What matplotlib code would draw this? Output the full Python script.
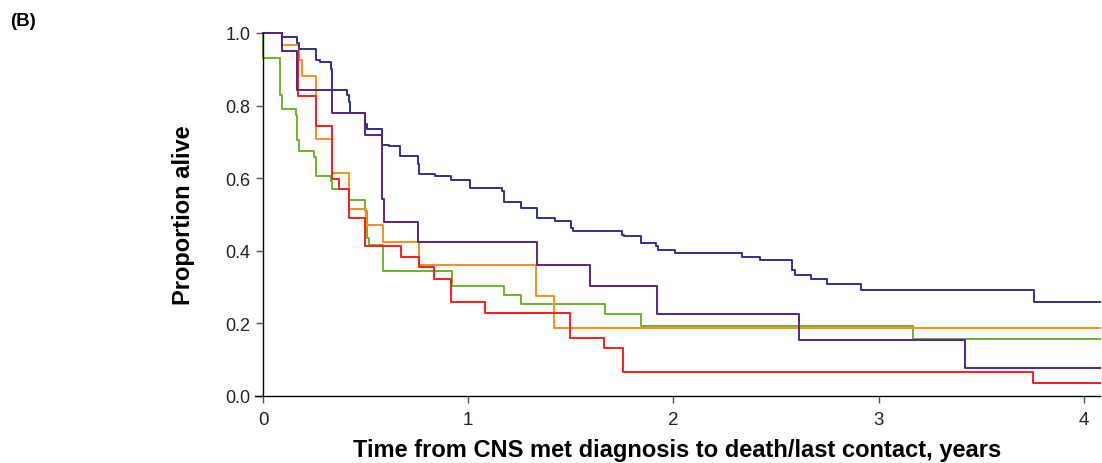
import matplotlib

matplotlib.use("Agg")
import matplotlib.pyplot as plt

# Kaplan-Meier steps (time in years, proportion alive)
blue_t = [0, 0.09, 0.167, 0.176, 0.255, 0.276, 0.33, 0.337, 0.408, 0.416, 0.424,
          0.498, 0.506, 0.579, 0.611, 0.665, 0.753, 0.758, 0.839, 0.916, 1.006,
          1.164, 1.172, 1.257, 1.335, 1.421, 1.501, 1.509, 1.75, 1.758, 1.84,
          1.917, 1.924, 2.006, 2.332, 2.421, 2.579, 2.592, 2.67, 2.75, 2.917, 3.758]
blue_s = [1.0, 0.989, 0.972, 0.955, 0.925, 0.92, 0.90, 0.842, 0.83, 0.809, 0.778,
          0.749, 0.735, 0.692, 0.687, 0.661, 0.639, 0.611, 0.605, 0.595, 0.573,
          0.565, 0.535, 0.517, 0.490, 0.482, 0.461, 0.453, 0.443, 0.439, 0.42,
          0.413, 0.402, 0.393, 0.381, 0.374, 0.347, 0.332, 0.321, 0.308, 0.292, 0.257]

purple_t = [0, 0.09, 0.167, 0.337, 0.498, 0.579, 0.587, 0.753, 1.335, 1.595, 1.92, 2.611, 3.424]
purple_s = [1.0, 0.95, 0.842, 0.779, 0.719, 0.542, 0.48, 0.424, 0.361, 0.303, 0.225, 0.153, 0.076]

red_t = [0, 0.09, 0.169, 0.255, 0.337, 0.37, 0.418, 0.498, 0.673, 0.758, 0.831,
         0.917, 1.08, 1.498, 1.66, 1.753, 3.753]
red_s = [1.0, 0.951, 0.827, 0.744, 0.597, 0.570, 0.49, 0.413, 0.381, 0.354, 0.323,
         0.259, 0.228, 0.16, 0.131, 0.066, 0.034]

orange_t = [0, 0.09, 0.174, 0.19, 0.255, 0.337, 0.418, 0.501, 0.584, 0.758, 1.332, 1.42]
orange_s = [1.0, 0.966, 0.925, 0.881, 0.708, 0.613, 0.516, 0.471, 0.424, 0.36, 0.274, 0.186]

green_t = [0, 0, 0.084, 0.093, 0.16, 0.167, 0.176, 0.249, 0.255, 0.33, 0.337, 0.418,
           0.498, 0.506, 0.514, 0.582, 0.92, 1.172, 1.259, 1.668, 1.84, 3.169]
green_s = [1.0, 0.932, 0.828, 0.79, 0.773, 0.706, 0.674, 0.659, 0.606, 0.591, 0.570, 0.539,
           0.51, 0.434, 0.416, 0.345, 0.303, 0.278, 0.252, 0.225, 0.193, 0.156]

x_ticks = [0, 1, 2, 3, 4]
y_ticks = [0.0, 0.2, 0.4, 0.6, 0.8, 1.0]
x_max = 4.08

series = [
    (green_t, green_s, "#6ab42d"),
    (orange_t, orange_s, "#ff8c1a"),
    (red_t, red_s, "#ff1a1a"),
    (blue_t, blue_s, "#2e3192"),
    (purple_t, purple_s, "#5b2384"),
]

plt.rcParams["font.family"] = ["Liberation Sans", "DejaVu Sans"]

fig = plt.figure(figsize=(11.02, 4.64), dpi=100)
ax = fig.add_axes([0.2314, 0.1451, 0.7668, 0.7817])

for t, s, color in series:
    ax.step(t + [x_max], s + [s[-1]], where="post", color=color, lw=1.4, clip_on=False)

ax.set_xlim(-0.04, x_max)
ax.set_ylim(0, 1.0)
ax.spines["left"].set_position(("data", 0))
ax.spines["left"].set_bounds(0, 1.0)
ax.spines["top"].set_visible(False)
ax.spines["right"].set_visible(False)
for side in ("left", "bottom"):
    ax.spines[side].set_linewidth(1.0)

ax.set_xticks(x_ticks)
ax.set_yticks(y_ticks)
ax.set_yticklabels([f"{v:.1f}" for v in y_ticks], fontsize=13, color="#222222")
ax.set_xticklabels([str(v) for v in x_ticks], fontsize=13.5, color="#222222")
ax.tick_params(axis="both", direction="out", length=5, width=1.0, color="#555555")
ax.tick_params(axis="y", pad=4)
ax.tick_params(axis="x", pad=6)

ax.set_ylabel("Proportion alive", fontsize=17, fontweight="bold", labelpad=22)
ax.set_xlabel("Time from CNS met diagnosis to death/last contact, years", fontsize=17,
              fontweight="bold", labelpad=7)

fig.text(0.009, 0.945, "(B)", fontsize=13.5, fontweight="bold")

fig.savefig("out.png", dpi=100)
